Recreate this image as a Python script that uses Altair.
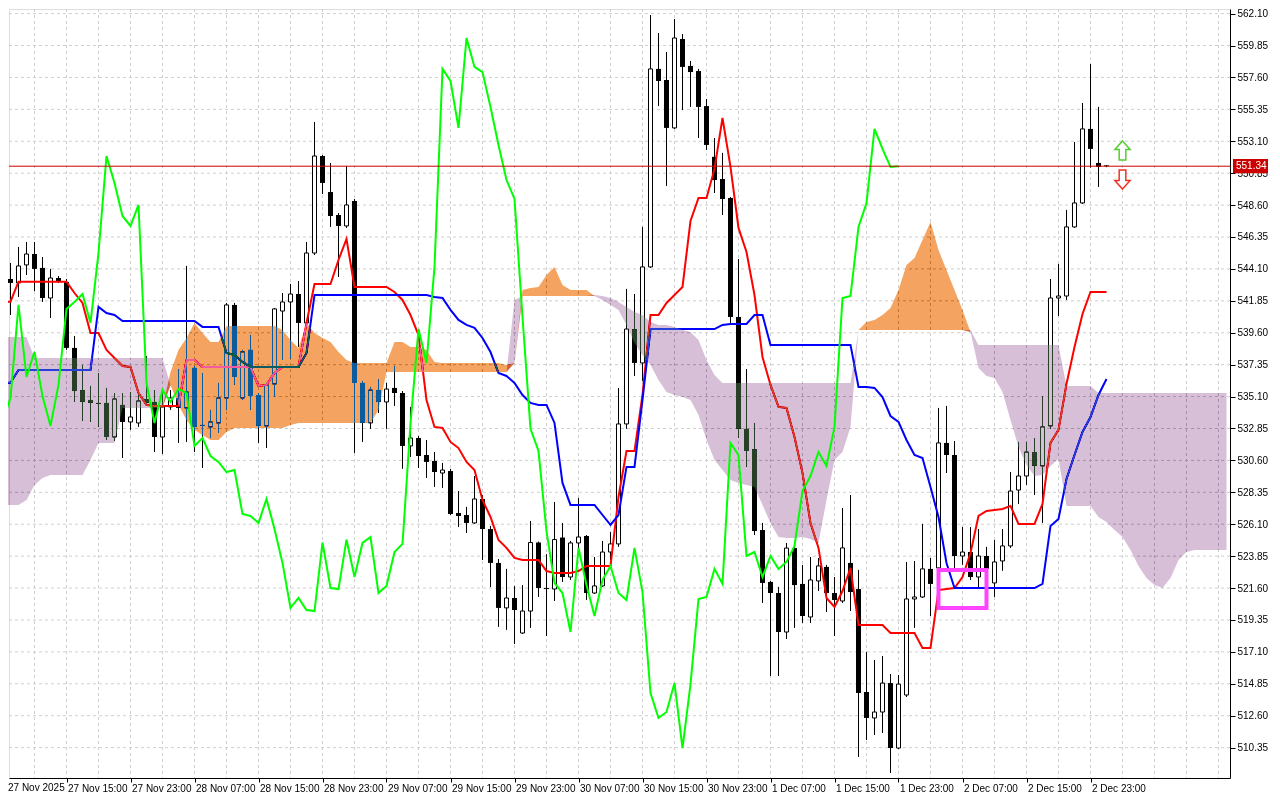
import altair as alt
import pandas as pd

# ---------------- data (hourly bars, index 0 = 27 Nov 07:00) ----------------
open_prices = [539.23, 543.39, 543.11, 544.38, 545.15, 544.17, 542.05, 543.46, 543.18, 538.53,
               535.56, 534.86, 534.65, 534.65, 532.25, 534.51, 533.31, 533.24, 534.93, 534.72,
               532.25, 534.37, 535.00, 534.30, 537.12, 533.10, 532.96, 533.24, 535.00, 541.56,
               535.00, 538.39, 535.21, 533.03, 535.99, 541.13, 541.77, 542.33, 540.29, 545.22,
               552.06, 549.52, 547.90, 547.13, 548.89, 536.06, 533.24, 535.56, 534.72, 535.71,
               535.35, 531.62, 532.18, 530.98, 530.56, 529.71, 529.85, 526.89, 526.75, 526.19,
               527.88, 525.76, 523.37, 520.20, 520.90, 518.43, 519.98, 524.81, 521.60, 521.53,
               525.16, 522.38, 524.78, 525.27, 521.25, 521.75, 524.14, 524.71, 533.17, 539.86,
               537.47, 544.24, 558.20, 557.42, 554.04, 560.31, 558.41, 558.05, 555.58, 552.00,
               550.44, 549.10, 540.71, 532.82, 531.40, 525.69, 522.03, 521.25, 518.50, 524.42,
               521.89, 519.56, 522.10, 523.09, 521.25, 520.69, 523.37, 521.53, 514.27, 512.44,
               512.86, 514.90, 510.32, 514.06, 520.83, 520.97, 522.95, 523.02, 531.83, 530.98,
               523.86, 524.14, 522.38, 523.86, 521.96, 523.51, 524.57, 528.51, 529.50, 531.19,
               530.21, 533.03, 542.05, 542.19, 547.06, 548.75, 553.97, 551.57, 551.40]
high_prices = [543.88, 544.52, 545.65, 546.00, 546.00, 544.94, 544.10, 543.60, 543.39, 539.37,
               537.33, 535.85, 536.76, 535.71, 535.35, 535.35, 535.42, 535.42, 537.96, 535.56,
               535.49, 535.56, 537.04, 544.31, 537.26, 536.76, 534.16, 536.06, 541.70, 541.70,
               538.39, 539.44, 535.35, 536.06, 541.35, 542.40, 543.04, 543.25, 546.00, 554.46,
               552.13, 551.57, 548.04, 551.36, 549.03, 536.20, 535.78, 536.34, 536.06, 537.26,
               535.49, 534.37, 532.32, 532.04, 531.19, 530.42, 530.00, 528.44, 527.32, 529.50,
               528.16, 525.98, 523.65, 522.95, 521.74, 521.81, 526.33, 524.88, 523.99, 527.67,
               526.19, 524.92, 527.95, 525.34, 523.79, 524.92, 525.55, 535.71, 542.69, 542.33,
               547.06, 562.00, 560.73, 559.39, 561.72, 560.66, 558.76, 558.20, 556.08, 553.33,
               552.28, 549.17, 544.80, 537.04, 533.24, 526.19, 522.10, 521.68, 524.78, 524.78,
               523.23, 523.79, 523.72, 523.23, 522.38, 527.25, 528.16, 522.88, 517.09, 516.53,
               516.81, 515.54, 515.47, 523.44, 523.51, 526.12, 523.72, 534.30, 534.44, 531.97,
               525.90, 525.90, 525.76, 524.50, 524.99, 525.76, 529.78, 531.90, 531.90, 532.18,
               535.14, 543.39, 544.45, 548.26, 553.05, 555.80, 558.55, 555.52, 551.41]
low_prices = [538.95, 540.85, 542.12, 543.67, 542.54, 541.77, 540.64, 543.11, 538.39, 534.72,
              533.38, 533.31, 532.96, 532.04, 531.97, 530.77, 532.75, 532.96, 534.51, 531.19,
              531.05, 534.16, 531.83, 531.90, 531.19, 530.07, 532.18, 532.53, 534.16, 535.92,
              534.86, 534.16, 531.83, 531.47, 535.07, 537.68, 537.75, 538.60, 540.01, 545.08,
              549.38, 547.06, 543.53, 546.99, 531.12, 531.90, 532.82, 533.94, 532.82, 534.44,
              530.00, 530.84, 530.07, 529.36, 528.73, 528.66, 526.75, 525.90, 525.48, 526.12,
              523.58, 521.67, 518.86, 518.65, 517.66, 518.36, 518.79, 520.97, 518.22, 520.69,
              522.03, 522.17, 524.43, 520.76, 521.18, 521.68, 523.58, 524.50, 532.82, 536.55,
              536.20, 544.17, 555.58, 549.95, 553.97, 555.30, 555.52, 553.33, 552.49, 549.45,
              547.90, 540.29, 532.18, 530.14, 525.34, 520.55, 515.40, 515.40, 518.01, 518.79,
              519.14, 519.14, 521.39, 519.91, 518.22, 520.55, 519.98, 509.69, 510.89, 511.24,
              511.38, 508.56, 510.25, 513.92, 518.79, 520.90, 519.63, 522.88, 529.71, 522.88,
              523.23, 522.17, 521.60, 522.52, 520.97, 522.81, 524.43, 527.53, 528.87, 528.16,
              526.19, 532.82, 540.78, 541.91, 546.99, 548.68, 551.24, 549.88, 551.27]
close_prices = [543.39, 543.11, 544.31, 545.15, 544.10, 542.05, 543.46, 543.25, 538.53, 535.49,
                534.72, 534.65, 534.58, 532.25, 534.93, 533.31, 533.66, 534.79, 534.65, 532.25,
                534.37, 535.00, 534.30, 535.42, 532.96, 533.03, 533.31, 535.00, 541.56, 536.48,
                538.25, 535.14, 533.03, 535.92, 541.28, 541.77, 542.33, 540.29, 545.22, 552.06,
                550.16, 547.83, 547.13, 548.61, 536.06, 533.24, 535.56, 534.72, 535.63, 535.35,
                531.62, 532.18, 530.91, 530.49, 529.78, 529.92, 526.82, 526.68, 526.19, 527.88,
                525.76, 523.37, 520.20, 520.90, 520.05, 519.98, 524.81, 521.60, 521.53, 525.02,
                522.38, 524.78, 525.20, 521.25, 521.75, 524.14, 524.71, 533.17, 539.86, 537.47,
                544.24, 558.20, 557.35, 554.04, 560.38, 558.34, 557.98, 555.52, 552.84, 550.37,
                549.03, 540.71, 532.82, 531.26, 525.62, 521.96, 521.25, 518.50, 524.42, 521.81,
                519.63, 522.17, 523.16, 521.25, 520.76, 524.43, 521.32, 514.20, 512.44, 512.86,
                514.90, 510.32, 514.83, 520.83, 520.97, 522.95, 521.89, 531.83, 530.98, 523.86,
                524.14, 522.38, 523.86, 522.95, 523.44, 524.57, 528.44, 529.50, 531.19, 530.21,
                532.96, 542.05, 542.19, 547.06, 548.75, 553.97, 552.56, 551.29, 551.34]

tenkan = [541.79, 541.79, 543.20, 543.20, 543.20, 543.20, 543.20, 543.20, 543.20, 542.40,
          541.70, 539.58, 539.58, 538.39, 537.82, 537.26, 537.19, 535.35, 534.51, 534.44,
          534.44, 534.44, 534.44, 537.68, 537.68, 537.19, 537.19, 537.19, 537.19, 537.19,
          537.19, 537.19, 535.85, 535.92, 536.76, 537.19, 537.19, 537.19, 540.29, 543.04,
          543.04, 543.04, 544.73, 546.21, 542.83, 542.83, 542.83, 542.83, 542.83, 542.47,
          541.91, 540.85, 539.44, 534.86, 532.96, 532.89, 531.90, 531.47, 530.49, 529.92,
          527.81, 526.61, 524.99, 524.43, 523.72, 523.58, 523.58, 523.58, 522.80, 522.66,
          522.66, 522.66, 522.80, 523.16, 523.16, 523.16, 523.16, 528.02, 531.26, 531.26,
          535.21, 540.85, 540.85, 541.70, 542.26, 542.83, 547.48, 549.10, 549.10, 551.15,
          554.74, 551.29, 546.99, 545.29, 542.26, 537.89, 535.92, 534.37, 534.30, 532.25,
          529.71, 526.19, 524.43, 520.90, 520.27, 521.39, 523.02, 519.00, 519.00, 519.00,
          519.00, 518.43, 518.43, 518.43, 518.43, 517.38, 517.38, 521.46, 521.53, 521.60,
          522.38, 524.07, 526.68, 527.04, 527.11, 527.18, 527.39, 526.12, 526.12, 526.12,
          527.53, 531.83, 532.75, 535.99, 538.60, 540.92, 542.47, 542.47, 542.47]
kijun = ([536.08, 536.08] + [536.97] * 10 + [541.42, 540.99, 540.85] + [540.43] * 10
         + [540.01] * 3 + [538.17, 538.03, 537.54] + [537.19] * 7 + [538.17] + [542.26] * 15
         + [542.12, 542.05, 541.21, 540.50, 540.15, 539.94, 539.23, 538.24, 536.76, 536.55,
            536.06, 535.21, 534.65, 534.51, 534.51, 533.24, 529.01] + [527.46] * 4
         + [526.75, 526.05, 526.75, 530.14, 530.14, 534.86] + [539.86] * 9 + [540.15]
         + [540.22] * 3 + [540.85, 540.85] + [538.74] * 11
         + [535.78, 535.78, 535.71, 535.07, 533.73, 533.31, 532.04, 530.98, 530.77, 528.73,
            526.61, 523.37] + [521.60] * 11
         + [521.89, 525.98, 526.47, 529.29, 530.98, 532.60, 533.66, 535.21, 536.34])
span_a = ([527.46, 527.46, 527.46, 527.81, 528.87, 529.36] + [529.57] * 5 + [530.63]
          + [531.83] * 3 + [534.30] * 6
          + [536.83, 538.39, 539.23, 540.29, 539.58, 538.95, 538.95] + [540.08] * 7
          + [539.80, 539.09, 538.53, 540.29, 539.58, 539.23, 538.95, 538.24, 537.68]
          + [537.47] * 5 + [538.95, 538.95, 538.60, 538.60, 538.39, 537.54] + [537.47] * 8
          + [537.33, 537.47, 542.61, 542.76, 542.83, 543.67, 544.24, 542.97] + [542.61] * 3
          + [542.19, 541.91, 541.56, 541.21, 540.15, 538.88, 538.03, 537.33, 536.27, 535.42,
             535.21, 535.07, 534.86, 533.80, 532.04, 530.63, 529.92, 529.22, 529.01, 528.87,
             528.73, 527.46, 526.19, 525.20, 525.13, 525.13, 525.20, 525.06, 524.78, 527.81,
             530.63, 531.19, 532.96, 539.80, 540.36, 540.50, 540.85, 541.35, 542.61, 544.38,
             544.87, 546.14, 547.41, 545.43, 544.02, 542.61, 541.21, 539.65, 537.12, 536.55,
             536.41, 535.42, 533.45, 531.55, 530.28, 529.50, 529.57, 530.21, 530.70]
          + [527.39] * 4
          + [526.61, 526.26, 525.69, 525.20, 524.29, 523.16, 522.31, 521.81, 521.60, 522.31,
             523.58, 524.14] + [524.29] * 5)
span_b = ([539.30] * 4 + [537.82] * 17
          + [535.92, 534.51, 533.45, 532.75, 532.39, 532.04, 532.04, 532.60] + [532.89] * 7
          + [533.10] + [533.24] * 10 + [534.16] + [536.83] * 16 + [541.91] + [542.19] * 9
          + [542.26, 542.19, 542.05, 541.77, 541.42, 541.06, 540.85, 540.36, 540.15, 540.15,
             540.01, 539.80, 539.65, 539.09, 537.68, 536.62]
          + [536.06] * 17 + [539.80] * 15 + [538.74] * 11 + [535.85] * 4 + [535.35] * 17)

chikou_shift = 26
bid_price = 551.34
price_ticks = [562.10, 559.85, 557.60, 555.35, 553.10, 550.85, 548.60, 546.35, 544.10, 541.85,
               539.60, 537.35, 535.10, 532.85, 530.60, 528.35, 526.10, 523.85, 521.60, 519.35,
               517.10, 514.85, 512.60, 510.35]
time_labels = ["27 Nov 2025", "27 Nov 15:00", "27 Nov 23:00", "28 Nov 07:00", "28 Nov 15:00",
               "28 Nov 23:00", "29 Nov 07:00", "29 Nov 15:00", "29 Nov 23:00", "30 Nov 07:00",
               "30 Nov 15:00", "30 Nov 23:00", "1 Dec 07:00", "1 Dec 15:00", "1 Dec 23:00",
               "2 Dec 07:00", "2 Dec 15:00", "2 Dec 23:00"]
label_every = 8
grid_every = 4
box_bars = [117, 123]
box_prices = [522.87, 520.19]
arrow_bar = 140
arrow_up_price = 552.45
arrow_down_price = 550.40

# ---------------- frames ----------------
n = len(close_prices)
candles = pd.DataFrame({"i": list(range(n)), "open": open_prices, "high": high_prices,
                        "low": low_prices, "close": close_prices})
bull = candles[candles["close"] > candles["open"]]
bear = candles[candles["close"] <= candles["open"]]
lines = pd.DataFrame({"i": list(range(n)), "tenkan": tenkan, "kijun": kijun})
chikou = pd.DataFrame({"i": list(range(n - chikou_shift)), "v": close_prices[chikou_shift:]})
cloud = pd.DataFrame({"i": list(range(len(span_a))), "a": span_a, "b": span_b})
grid_x = pd.DataFrame({"i": list(range(grid_every, 154, grid_every))})
grid_y = pd.DataFrame({"p": price_ticks})
bid_df = pd.DataFrame({"p": [bid_price], "hi": [bid_price + 0.5], "lo": [bid_price - 0.5],
                       "t": [f"{bid_price:.2f}"]})
box_df = pd.DataFrame({"i0": [box_bars[0]], "i1": [box_bars[1]],
                       "p0": [box_prices[0]], "p1": [box_prices[1]]})
up_df = pd.DataFrame({"i": [arrow_bar], "p": [arrow_up_price]})
dn_df = pd.DataFrame({"i": [arrow_bar], "p": [arrow_down_price]})
first_lbl = pd.DataFrame({"t": [time_labels[0]]})

# ---------------- scales & axes ----------------
W, H = 1221, 769
FONT = "Liberation Sans"
xs = alt.Scale(domain=[0.8125, 153.4375], nice=False, zero=False)
ys = alt.Scale(domain=[508.208, 562.424], nice=False, zero=False)
lbl_js = "[" + ",".join("'" + t + "'" for t in time_labels) + "]"
x_axis = alt.Axis(orient="bottom", values=list(range(label_every, label_every * len(time_labels), label_every)),
                  labelExpr=lbl_js + f"[round(datum.value / {label_every})]",
                  title=None, grid=False, tickSize=4, tickColor="black", domainColor="black",
                  labelAlign="left", labelBaseline="top", labelPadding=1, labelOffset=1,
                  labelFlush=False, labelOverlap=False, labelFont=FONT, labelFontSize=10,
                  labelColor="black")
y_axis = alt.Axis(orient="right", values=price_ticks, format=".2f", title=None, grid=False,
                  tickSize=5, tickColor="black", domainColor="black", labelPadding=2,
                  labelAlign="left", labelBaseline="middle", labelFlush=False,
                  labelOverlap=False, labelFont=FONT, labelFontSize=10, labelColor="black")


def X(f="i"):
    return alt.X(f + ":Q", scale=xs, axis=x_axis)


def Y(f):
    return alt.Y(f + ":Q", scale=ys, axis=y_axis)


GRID = "#cfcfcf"
layers = []
layers.append(alt.Chart(grid_x).mark_rule(color=GRID, strokeDash=[3, 3], strokeWidth=1).encode(x=X()))
layers.append(alt.Chart(grid_y).mark_rule(color=GRID, strokeDash=[3, 3], strokeWidth=1).encode(y=Y("p")))
# candles
layers.append(alt.Chart(candles).mark_rule(color="black", strokeWidth=1).encode(
    x=X(), y=Y("low"), y2=alt.Y2("high")))
layers.append(alt.Chart(bear).transform_calculate(x0="datum.i - 0.3125", x1="datum.i + 0.3125")
              .mark_rect(color="black").encode(x=X("x0"), x2=alt.X2("x1"), y=Y("open"), y2=alt.Y2("close")))
layers.append(alt.Chart(bull).transform_calculate(x0="datum.i - 0.25", x1="datum.i + 0.25")
              .mark_rect(fill="white", stroke="black", strokeWidth=1)
              .encode(x=X("x0"), x2=alt.X2("x1"), y=Y("open"), y2=alt.Y2("close")))
# tenkan / kijun
layers.append(alt.Chart(lines).mark_line(color="#ff0000", strokeWidth=2).encode(x=X(), y=Y("tenkan")))
layers.append(alt.Chart(lines).mark_line(color="#0000ff", strokeWidth=2).encode(x=X(), y=Y("kijun")))
# kumo (drawn XOR-like over everything below, as the terminal does)
layers.append(alt.Chart(cloud).transform_calculate(lo="min(datum.a, datum.b)")
              .mark_area(color="#0b5b9f", blend="difference", opacity=1)
              .encode(x=X(), y=Y("a"), y2=alt.Y2("lo")))
layers.append(alt.Chart(cloud).transform_calculate(lo="min(datum.a, datum.b)")
              .mark_area(color="#274027", blend="difference", opacity=1)
              .encode(x=X(), y=Y("b"), y2=alt.Y2("lo")))
# chikou
layers.append(alt.Chart(chikou).mark_line(color="#00ff00", strokeWidth=2).encode(x=X(), y=Y("v")))
# bid line
layers.append(alt.Chart(bid_df).mark_rule(color="#cc0000", strokeWidth=1).encode(y=Y("p")))
# magenta box
layers.append(alt.Chart(box_df).mark_rect(fillOpacity=0, stroke="#ff44ff", strokeWidth=4)
              .encode(x=X("i0"), x2=alt.X2("i1"), y=Y("p0"), y2=alt.Y2("p1")))
# arrows
UP = "M0,-1L0.8,-0.1L0.35,-0.1L0.35,1L-0.35,1L-0.35,-0.1L-0.8,-0.1Z"
DN = "M0,1L0.8,0.1L0.35,0.1L0.35,-1L-0.35,-1L-0.35,0.1L-0.8,0.1Z"
layers.append(alt.Chart(up_df).mark_point(shape=UP, size=361, filled=True, fill="white",
                                          stroke="#55cc33", strokeWidth=1.5, opacity=1)
              .encode(x=X(), y=Y("p")))
layers.append(alt.Chart(dn_df).mark_point(shape=DN, size=361, filled=True, fill="white",
                                          stroke="#ee3322", strokeWidth=1.5, opacity=1)
              .encode(x=X(), y=Y("p")))
# bid price tag on the axis
layers.append(alt.Chart(bid_df).mark_rect(color="#cc0000").encode(
    x=alt.value(W + 3), x2=alt.value(W + 38), y=Y("hi"), y2=alt.Y2("lo")))
layers.append(alt.Chart(bid_df).mark_text(color="white", align="left", baseline="middle",
                                          font=FONT, fontSize=10)
              .encode(x=alt.value(W + 6), y=Y("p"), text="t:N"))
# first time label (its bar sits just left of the visible area)
layers.append(alt.Chart(first_lbl).mark_text(color="black", align="left", baseline="top",
                                             font=FONT, fontSize=10)
              .encode(x=alt.value(-1), y=alt.value(H + 5), text="t:N"))

chart = (alt.layer(*layers)
         .properties(width=W, height=H,
                     padding={"left": 1, "top": 1, "right": 42, "bottom": 16},
                     autosize=alt.AutoSizeParams(type="none"))
         .configure_view(stroke="black", strokeWidth=1, fill="white")
         .configure(background="white"))

chart.save("out.html", embed_options={"renderer": "svg", "actions": False})
